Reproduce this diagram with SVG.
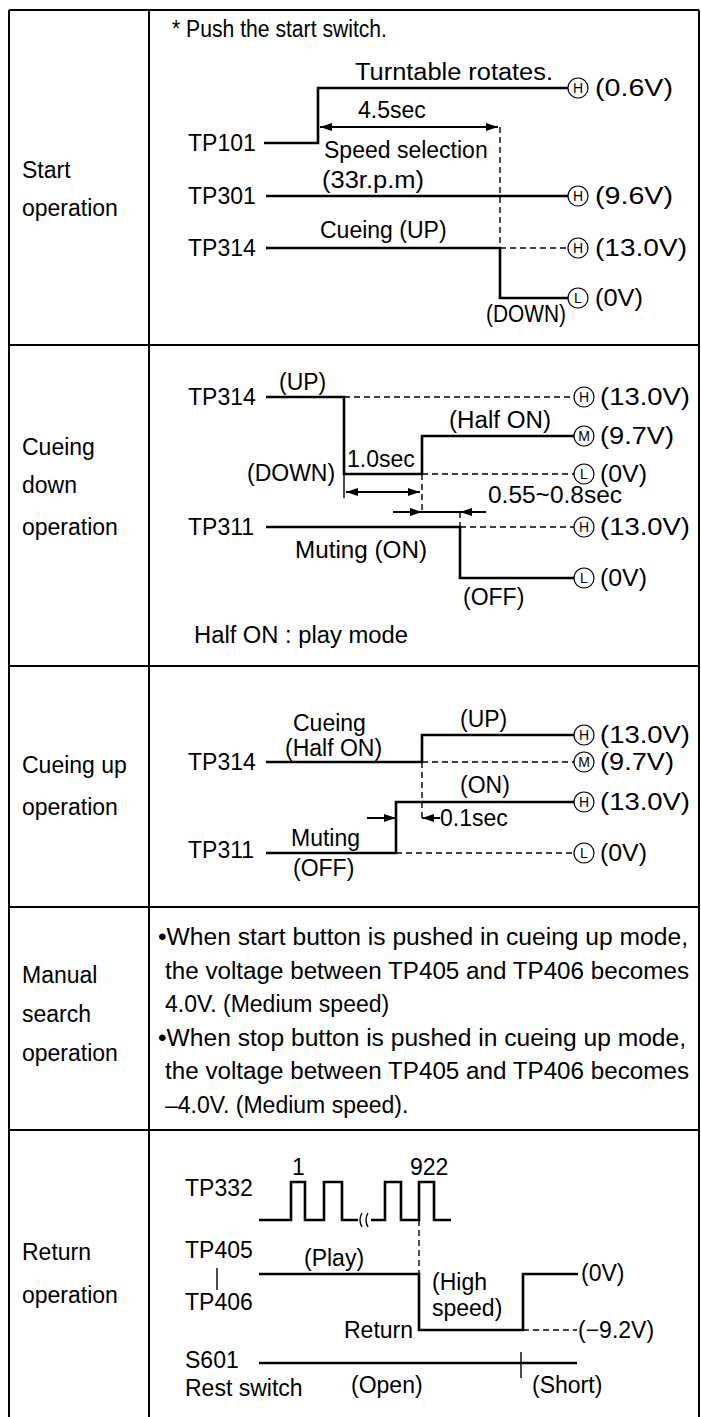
<svg xmlns="http://www.w3.org/2000/svg" width="701" height="1417" viewBox="0 0 701 1417">
<style>
.t{font-family:"Liberation Sans",Arial,sans-serif;font-size:23px;fill:#000}
.s{font-family:"Liberation Sans",Arial,sans-serif;font-size:14px;fill:#000;text-anchor:middle}
.b{stroke:#000;stroke-width:2;fill:none}
.w{stroke:#000;stroke-width:2.6;fill:none}
.d{stroke:#000;stroke-width:1.4;fill:none;stroke-dasharray:6 4}
.th{stroke:#000;stroke-width:1.4;fill:none}
.ci{stroke:#000;stroke-width:1.2;fill:#fff}
.ar{stroke:#000;stroke-width:2;fill:none}
</style>
<defs>
<marker id="ah" viewBox="0 0 12 8" refX="12" refY="4" markerWidth="12" markerHeight="8" markerUnits="userSpaceOnUse" orient="auto-start-reverse">
<path d="M0,0 L12,4 L0,8 Z" fill="#000"/>
</marker>
</defs>
<rect width="701" height="1417" fill="#fff"/>

<g id="table">
<path class="b" d="M9,10 H699 M9,10 V1417 M149,10 V1417 M699,10 V1417 M9,345 H699 M9,666 H699 M9,907 H699 M9,1130 H699"/>
</g>

<g id="labels">
<text class="t" x="22" y="178">Start</text>
<text class="t" x="22" y="216">operation</text>
<text class="t" x="22" y="455">Cueing</text>
<text class="t" x="22" y="493">down</text>
<text class="t" x="22" y="535">operation</text>
<text class="t" x="22" y="773">Cueing up</text>
<text class="t" x="22" y="815">operation</text>
<text class="t" x="22" y="983">Manual</text>
<text class="t" x="22" y="1022">search</text>
<text class="t" x="22" y="1061">operation</text>
<text class="t" x="22" y="1260">Return</text>
<text class="t" x="22" y="1303">operation</text>
</g>

<g id="start-operation">
<text class="t" x="172" y="37" textLength="215" lengthAdjust="spacingAndGlyphs">* Push the start switch.</text>
<text class="t" x="355" y="80" textLength="198" lengthAdjust="spacingAndGlyphs">Turntable rotates.</text>
<text class="t" x="358" y="118">4.5sec</text>
<text class="t" x="188" y="151">TP101</text>
<text class="t" x="324" y="158">Speed selection</text>
<text class="t" x="322" y="188" textLength="102" lengthAdjust="spacingAndGlyphs">(33r.p.m)</text>
<text class="t" x="188" y="204">TP301</text>
<text class="t" x="320" y="238">Cueing (UP)</text>
<text class="t" x="188" y="256">TP314</text>
<text class="t" x="486" y="322" textLength="80" lengthAdjust="spacingAndGlyphs">(DOWN)</text>
<circle class="ci" cx="578" cy="88" r="10"/><text class="s" x="578" y="93">H</text><text class="t" x="595" y="96" textLength="78" lengthAdjust="spacingAndGlyphs">(0.6V)</text>
<circle class="ci" cx="578" cy="196" r="10"/><text class="s" x="578" y="201">H</text><text class="t" x="595" y="204" textLength="78" lengthAdjust="spacingAndGlyphs">(9.6V)</text>
<circle class="ci" cx="578" cy="248" r="10"/><text class="s" x="578" y="253">H</text><text class="t" x="595" y="256" textLength="92" lengthAdjust="spacingAndGlyphs">(13.0V)</text>
<circle class="ci" cx="578" cy="298" r="10"/><text class="s" x="578" y="303">L</text><text class="t" x="595" y="306" textLength="48" lengthAdjust="spacingAndGlyphs">(0V)</text>
</g>

<g id="start-waves">
<path class="w" d="M264,143 H318 V88 H568"/>
<path class="w" d="M266,196 H568"/>
<path class="w" d="M266,248 H500 V298 H568"/>
<path class="d" d="M500,248 H568"/>
<path class="d" d="M500,127 V248"/>
<path class="ar" d="M320,127 H498" marker-start="url(#ah)" marker-end="url(#ah)"/>
</g>

<g id="cueing-down">
<text class="t" x="279" y="390">(UP)</text>
<text class="t" x="188" y="405">TP314</text>
<text class="t" x="449" y="428" textLength="102" lengthAdjust="spacingAndGlyphs">(Half ON)</text>
<text class="t" x="247" y="481">(DOWN)</text>
<text class="t" x="347" y="467">1.0sec</text>
<text class="t" x="488" y="503" textLength="134" lengthAdjust="spacingAndGlyphs">0.55~0.8sec</text>
<text class="t" x="188" y="535">TP311</text>
<text class="t" x="295" y="558" textLength="132" lengthAdjust="spacingAndGlyphs">Muting (ON)</text>
<text class="t" x="463" y="605">(OFF)</text>
<text class="t" x="194" y="643" textLength="214" lengthAdjust="spacingAndGlyphs">Half ON : play mode</text>
<circle class="ci" cx="584" cy="397" r="10"/><text class="s" x="584" y="402">H</text><text class="t" x="600" y="405" textLength="90" lengthAdjust="spacingAndGlyphs">(13.0V)</text>
<circle class="ci" cx="584" cy="436" r="10"/><text class="s" x="584" y="441">M</text><text class="t" x="600" y="444" textLength="74" lengthAdjust="spacingAndGlyphs">(9.7V)</text>
<circle class="ci" cx="584" cy="474" r="10"/><text class="s" x="584" y="479">L</text><text class="t" x="600" y="482" textLength="47" lengthAdjust="spacingAndGlyphs">(0V)</text>
<circle class="ci" cx="584" cy="527" r="10"/><text class="s" x="584" y="532">H</text><text class="t" x="600" y="535" textLength="90" lengthAdjust="spacingAndGlyphs">(13.0V)</text>
<circle class="ci" cx="584" cy="578" r="10"/><text class="s" x="584" y="583">L</text><text class="t" x="600" y="586" textLength="47" lengthAdjust="spacingAndGlyphs">(0V)</text>
</g>

<g id="cueing-down-waves">
<path class="w" d="M266,397 H344 V474 H422 V436 H574"/>
<path class="d" d="M344,397 H574"/>
<path class="d" d="M422,474 H574"/>
<path class="th" d="M344,474 V498"/>
<path class="d" d="M422,474 V512"/>
<path class="w" d="M266,527 H460 V578 H574"/>
<path class="d" d="M460,527 H574"/>
<path class="d" d="M460,512 V527"/>
<path class="ar" d="M346,492 H420" marker-start="url(#ah)" marker-end="url(#ah)"/>
<path class="ar" d="M393,512 H422" marker-end="url(#ah)"/>
<path class="ar" d="M486,512 H460" marker-end="url(#ah)"/>
<path class="ar" d="M422,512 H460"/>
</g>

<g id="cueing-up">
<text class="t" x="293" y="731">Cueing</text>
<text class="t" x="460" y="727">(UP)</text>
<text class="t" x="285" y="756">(Half ON)</text>
<text class="t" x="188" y="770">TP314</text>
<text class="t" x="460" y="793">(ON)</text>
<text class="t" x="440" y="826">0.1sec</text>
<text class="t" x="291" y="846">Muting</text>
<text class="t" x="188" y="858">TP311</text>
<text class="t" x="293" y="876">(OFF)</text>
<circle class="ci" cx="584" cy="735" r="10"/><text class="s" x="584" y="740">H</text><text class="t" x="600" y="743" textLength="90" lengthAdjust="spacingAndGlyphs">(13.0V)</text>
<circle class="ci" cx="584" cy="762" r="10"/><text class="s" x="584" y="767">M</text><text class="t" x="600" y="770" textLength="74" lengthAdjust="spacingAndGlyphs">(9.7V)</text>
<circle class="ci" cx="584" cy="802" r="10"/><text class="s" x="584" y="807">H</text><text class="t" x="600" y="810" textLength="90" lengthAdjust="spacingAndGlyphs">(13.0V)</text>
<circle class="ci" cx="584" cy="853" r="10"/><text class="s" x="584" y="858">L</text><text class="t" x="600" y="861" textLength="47" lengthAdjust="spacingAndGlyphs">(0V)</text>
</g>

<g id="cueing-up-waves">
<path class="w" d="M266,762 H422 V735 H574"/>
<path class="d" d="M422,762 H574"/>
<path class="d" d="M422,762 V818"/>
<path class="w" d="M266,853 H396 V802 H574"/>
<path class="d" d="M396,853 H574"/>
<path class="ar" d="M367,818 H396" marker-end="url(#ah)"/>
<path class="ar" d="M440,818 H422" marker-end="url(#ah)"/>
</g>

<g id="manual-search">
<text class="t" x="158" y="945" textLength="530" lengthAdjust="spacingAndGlyphs">•When start button is pushed in cueing up mode,</text>
<text class="t" x="165" y="979" textLength="524" lengthAdjust="spacingAndGlyphs">the voltage between TP405 and TP406 becomes</text>
<text class="t" x="165" y="1012">4.0V. (Medium speed)</text>
<text class="t" x="158" y="1046" textLength="528" lengthAdjust="spacingAndGlyphs">•When stop button is pushed in cueing up mode,</text>
<text class="t" x="165" y="1079" textLength="524" lengthAdjust="spacingAndGlyphs">the voltage between TP405 and TP406 becomes</text>
<text class="t" x="165" y="1113">–4.0V. (Medium speed).</text>
</g>

<g id="return-operation">
<text class="t" x="292" y="1175">1</text>
<text class="t" x="410" y="1175">922</text>
<text class="t" x="185" y="1196">TP332</text>
<text class="t" x="185" y="1258">TP405</text>
<text class="t" x="185" y="1310">TP406</text>
<text class="t" x="304" y="1266">(Play)</text>
<text class="t" x="432" y="1290">(High</text>
<text class="t" x="432" y="1316">speed)</text>
<text class="t" x="344" y="1338">Return</text>
<text class="t" x="581" y="1281">(0V)</text>
<text class="t" x="578" y="1338">(−9.2V)</text>
<text class="t" x="185" y="1368">S601</text>
<text class="t" x="185" y="1396">Rest switch</text>
<text class="t" x="351" y="1393">(Open)</text>
<text class="t" x="532" y="1393">(Short)</text>
</g>

<g id="return-waves">
<path class="w" d="M259,1220 H291 V1182 H305 V1220 H324 V1182 H342 V1220 H358"/>
<path class="th" d="M362,1213 q-4,7 0,14 M368,1213 q-4,7 0,14"/>
<path class="w" d="M371,1220 H385 V1182 H401 V1220 H419 V1182 H434 V1220 H451"/>
<path class="th" d="M217,1268 V1290"/>
<path class="w" d="M259,1274 H419 V1330 H523 V1274 H578"/>
<path class="d" d="M419,1220 V1274"/>
<path class="d" d="M523,1330 H577"/>
<path class="w" d="M259,1363 H577"/>
<path class="th" d="M521,1352 V1378"/>
</g>
</svg>
